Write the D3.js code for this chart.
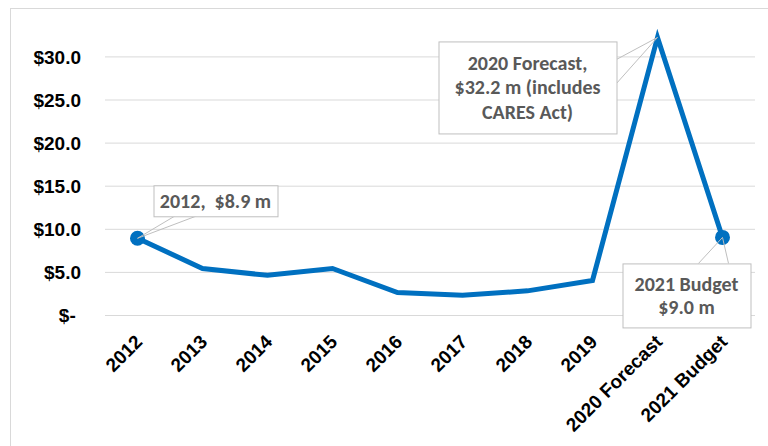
<!DOCTYPE html>
<html>
<head>
<meta charset="utf-8">
<script src="https://cdn.jsdelivr.net/npm/d3@7"></script>
<style>
  html, body { margin: 0; padding: 0; background: #fff; }
  svg { display: block; font-family: Arial, "Liberation Sans", sans-serif; }
</style>
</head>
<body>
<svg id="chart" width="768" height="446"></svg>
<script>
// Annual amounts, $ millions
const categories = ["2012", "2013", "2014", "2015", "2016", "2017", "2018", "2019", "2020 Forecast", "2021 Budget"];
const values = [8.9, 5.4, 4.6, 5.4, 2.6, 2.3, 2.8, 4.0, 32.2, 9.0];
const yTicks = [0, 5, 10, 15, 20, 25, 30];
const markedPoints = ["2012", "2021 Budget"];
const callouts = [
  { category: "2012", lines: ["2012,  $8.9 m"] },
  { category: "2020 Forecast", lines: ["2020 Forecast,", "$32.2 m (includes", "CARES Act)"] },
  { category: "2021 Budget", lines: ["2021 Budget", "$9.0 m"] }
];

const svg = d3.select("#chart");
const W = 768, H = 446;
const plot = { left: 105, right: 755, top: 10, bottom: 315 };

// outer chart frame
svg.append("rect")
  .attr("x", 10.5).attr("y", 8.5)
  .attr("width", W + 10).attr("height", H + 10)
  .attr("fill", "#fff").attr("stroke", "#d9d9d9").attr("stroke-width", 1);

const x = d3.scaleBand().domain(categories).range([plot.left, plot.right]);
const cx = c => x(c) + x.bandwidth() / 2;
const y = d3.scaleLinear().domain([0, 35.4]).range([plot.bottom, plot.bottom - 35.4 * 8.62]);

// horizontal gridlines + value axis labels
const yAxis = d3.axisLeft(y)
  .tickValues(yTicks)
  .tickSize(-(plot.right - plot.left))
  .tickPadding(24)
  .tickFormat(v => v === 0 ? "$- " : "$" + d3.format(".1f")(v));
const gy = svg.append("g").attr("transform", `translate(${plot.left},0)`).call(yAxis);
gy.select(".domain").remove();
gy.selectAll(".tick line").attr("stroke", "#d9d9d9").attr("stroke-width", 1);
gy.selectAll(".tick text")
  .attr("fill", "#000").attr("font-size", 19).attr("font-weight", "bold")
  .style("white-space", "pre").attr("xml:space", "preserve")
  .attr("dy", "0.35em");

// category axis labels, rotated
const xAxis = d3.axisBottom(x).tickSize(0).tickPadding(0);
const gx = svg.append("g").attr("transform", `translate(0,${plot.bottom})`).call(xAxis);
gx.select(".domain").remove();
gx.selectAll(".tick text")
  .attr("fill", "#000").attr("font-size", 19).attr("font-weight", "bold")
  .attr("text-anchor", "end")
  .attr("dy", null).attr("y", 0)
  .attr("transform", "translate(6,28) rotate(-45)");

// line series
const data = categories.map((c, i) => ({ c, v: values[i] }));
const line = d3.line().x(d => cx(d.c)).y(d => y(d.v));
svg.append("path").datum(data)
  .attr("d", line)
  .attr("fill", "none").attr("stroke", "#0070C0")
  .attr("stroke-width", 5).attr("stroke-linejoin", "miter").attr("stroke-miterlimit", 10);

svg.selectAll("circle.marker")
  .data(data.filter(d => markedPoints.includes(d.c)))
  .join("circle")
  .attr("class", "marker")
  .attr("cx", d => cx(d.c)).attr("cy", d => y(d.v)).attr("r", 7.5)
  .attr("fill", "#0070C0");

// data callouts: box placement and leader base relative to the point
const calloutLayout = {
  "2012": { dx: 16, dy: -53, w: 124, h: 31, lead: [[36, 22], [66, 22]], lineH: 0 },
  "2020 Forecast": { dx: -219, dy: 4, w: 178, h: 92, lead: [[178, 18], [178, 42]], lineH: 24.5 },
  "2021 Budget": { dx: -100, dy: 26, w: 128, h: 64, lead: [[76, 0], [106, 0]], lineH: 23 }
};
const lookup = new Map(data.map(d => [d.c, d]));
callouts.forEach(co => {
  const d = lookup.get(co.category);
  const px = cx(d.c), py = y(d.v);
  const L = calloutLayout[co.category];
  const bx = px + L.dx, by = py + L.dy;
  const g = svg.append("g");
  g.append("path")
    .attr("d", `M${bx + L.lead[0][0]},${by + L.lead[0][1]}L${px},${py}L${bx + L.lead[1][0]},${by + L.lead[1][1]}`)
    .attr("fill", "none").attr("stroke", "#bfbfbf").attr("stroke-width", 1);
  g.append("rect")
    .attr("x", bx + 0.5).attr("y", by + 0.5).attr("width", L.w).attr("height", L.h)
    .attr("fill", "#fff").attr("stroke", "#bfbfbf").attr("stroke-width", 1);
  const n = co.lines.length;
  const mid = by + L.h / 2;
  co.lines.forEach((t, i) => {
    g.append("text")
      .attr("x", bx + L.w / 2).attr("y", mid + (i - (n - 1) / 2) * L.lineH)
      .attr("dy", "0.35em")
      .attr("text-anchor", "middle")
      .attr("fill", "#595959").attr("font-size", 20).attr("font-weight", "bold")
      .attr("font-family", "Calibri, Carlito, 'Open Sans', sans-serif")
      .style("white-space", "pre").attr("xml:space", "preserve")
      .text(t);
  });
});
</script>
</body>
</html>
